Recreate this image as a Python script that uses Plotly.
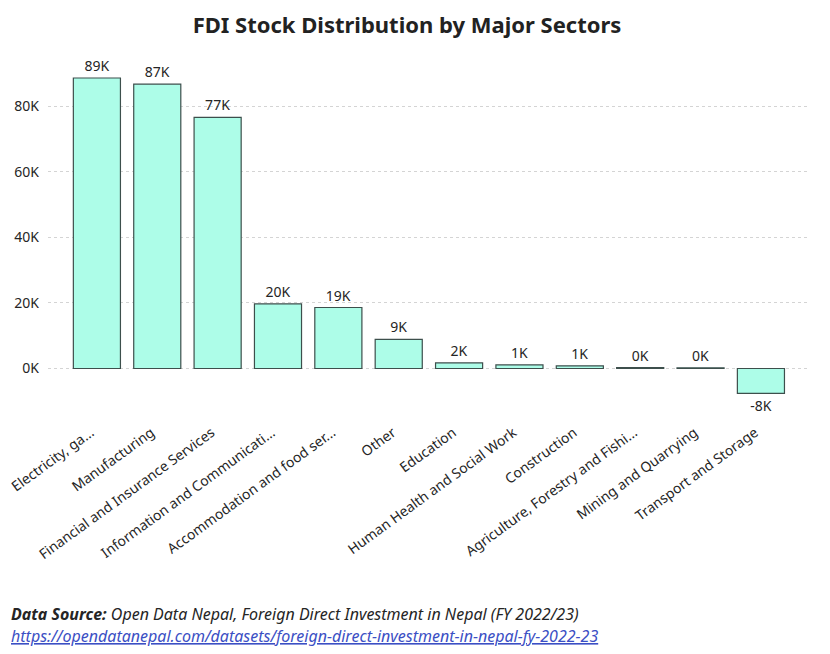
import plotly.graph_objects as go

categories = [
    "Electricity, gas, steam and air conditioning supply",
    "Manufacturing",
    "Financial and Insurance Services",
    "Information and Communication",
    "Accommodation and food service activities",
    "Other",
    "Education",
    "Human Health and Social Work",
    "Construction",
    "Agriculture, Forestry and Fishing",
    "Mining and Quarrying",
    "Transport and Storage",
]
tick_labels = [
    "Electricity, ga...",
    "Manufacturing",
    "Financial and Insurance Services",
    "Information and Communicati...",
    "Accommodation and food ser...",
    "Other",
    "Education",
    "Human Health and Social Work",
    "Construction",
    "Agriculture, Forestry and Fishi...",
    "Mining and Quarrying",
    "Transport and Storage",
]
fdi_stock = [88600, 86700, 76600, 19700, 18600, 8900, 1700, 1100, 800, 300, 200, -7600]
y_tickvals = [0, 20000, 40000, 60000, 80000]
y_ticktext = ["0K", "20K", "40K", "60K", "80K"]

bar_text = [f"{v/1000:.0f}K" for v in fdi_stock]

FONT = "Noto Sans"
W, H = 830, 654
OFF = 8  # page body offset
L, T = 48 - OFF, 57 - OFF
PW, PH = 760, 340.6
R = W - L - PW
B = H - T - PH


def px_x(px):
    return (px - OFF - L) / PW


def px_y(py):
    return (H - B - (py - OFF)) / PH


fig = go.Figure(
    go.Bar(
        x=categories,
        y=fdi_stock,
        text=bar_text,
        textposition="outside",
        cliponaxis=False,
        textfont=dict(family=FONT, size=14, color="#252525"),
        marker=dict(color="#adfde8", line=dict(color="#3d4f4c", width=1.2)),
    )
)

fig.update_layout(
    width=W,
    height=H,
    paper_bgcolor="white",
    plot_bgcolor="white",
    font=dict(family=FONT, color="#252525"),
    margin=dict(l=L, r=R, t=T, b=B),
    bargap=0.22,
    showlegend=False,
    title=dict(
        text="<b>FDI Stock Distribution by Major Sectors</b>",
        x=(407 - OFF) / W,
        xanchor="center",
        xref="container",
        y=1 - (25 - OFF) / H,
        yanchor="middle",
        font=dict(family=FONT, size=22, color="#222222"),
    ),
    xaxis=dict(
        tickmode="array",
        tickvals=categories,
        ticktext=tick_labels,
        tickangle=-36,
        tickfont=dict(family=FONT, size=14, color="#252525"),
        showgrid=False,
        zeroline=False,
        showline=False,
        ticks="",
        ticklabelstandoff=23,
        ticklabelshift=-6,
        range=[-0.81, 11.78],
        automargin=False,
    ),
    yaxis=dict(
        tickmode="array",
        tickvals=y_tickvals,
        ticktext=y_ticktext,
        tickfont=dict(family=FONT, size=14, color="#252525"),
        range=[-9000, 95000],
        showgrid=True,
        gridcolor="#d4d4d4",
        griddash="dot",
        gridwidth=1,
        zeroline=False,
        showline=False,
        ticklabelstandoff=8,
        automargin=False,
    ),
    annotations=[
        dict(
            text="<b><i>Data Source:</i></b> <i>Open Data Nepal, Foreign Direct Investment in Nepal (FY 2022/23)</i>",
            xref="paper", yref="paper",
            x=px_x(9), y=px_y(613),
            xanchor="left", yanchor="middle",
            showarrow=False,
            font=dict(family=FONT, size=16, color="#252525"),
        ),
        dict(
            text="<a href='https://opendatanepal.com/datasets/foreign-direct-investment-in-nepal-fy-2022-23'><span style='color:#3b4fc4'><i><u>https://opendatanepal.com/datasets/foreign-direct-investment-in-nepal-fy-2022-23</u></i></span></a>",
            xref="paper", yref="paper",
            x=px_x(9), y=px_y(635),
            xanchor="left", yanchor="middle",
            showarrow=False,
            font=dict(family=FONT, size=16, color="#3b4fc4"),
        ),
    ],
)

fig.write_html("out.html")
